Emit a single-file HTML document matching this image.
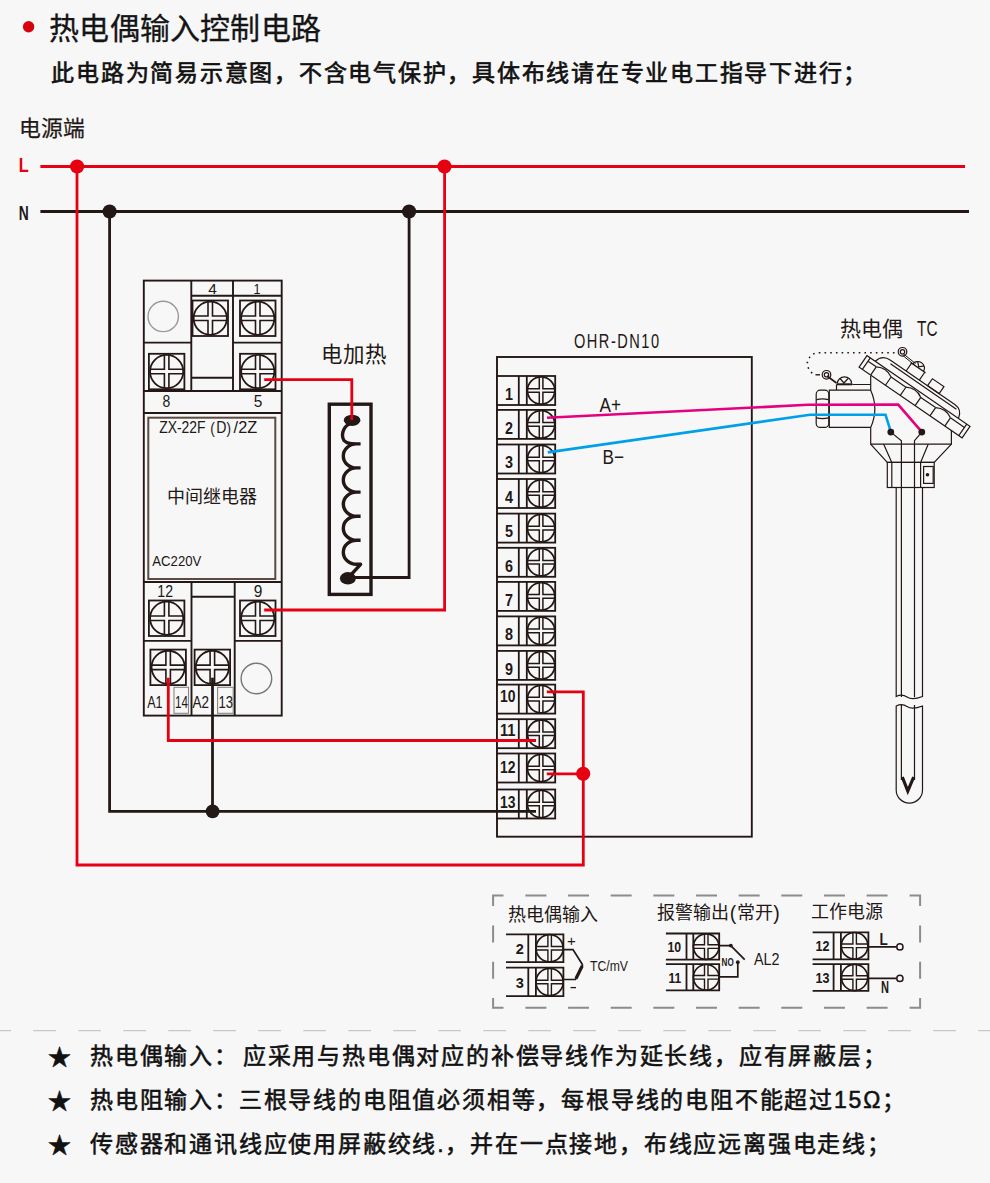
<!DOCTYPE html>
<html lang="zh-CN"><head><meta charset="utf-8">
<style>
html,body{margin:0;padding:0;background:#f7f7f7;width:990px;height:1183px;overflow:hidden}
svg{position:absolute;left:0;top:0;display:block}
text{font-family:"Liberation Sans",sans-serif}
.dk{stroke:#231815;fill:none}
.rd{stroke:#e60012;fill:none}
</style></head><body>
<svg width="990" height="1183" viewBox="0 0 990 1183">
<defs>
  <!-- relay terminal screw, 35.5px square, origin top-left -->
  <g id="rt">
    <rect x="0" y="0" width="35.5" height="35.5" fill="#f7f7f7" stroke="#231815" stroke-width="1.8"/>
    <circle cx="17.75" cy="17.75" r="16.6" fill="none" stroke="#231815" stroke-width="1.8"/>
    <path d="M15.5 1.3V15.5H1.3M20 1.3V15.5H34.2M15.5 34.2V20H1.3M20 34.2V20H34.2" fill="none" stroke="#231815" stroke-width="1.6"/>
  </g>
  <!-- OHR terminal: origin at top-left (x=497), height 29 -->
  <g id="ot">
    <rect x="0" y="0" width="58.2" height="29" fill="#f7f7f7" stroke="#231815" stroke-width="1.8"/>
    <line x1="21.8" y1="0" x2="21.8" y2="29" stroke="#231815" stroke-width="1.8"/>
    <line x1="29.8" y1="0" x2="29.8" y2="29" stroke="#231815" stroke-width="1.8"/>
    <circle cx="44.1" cy="14.5" r="13.7" fill="none" stroke="#231815" stroke-width="1.8"/>
    <path d="M42.3 0.5V12.7H30.3M45.9 0.5V12.7H58.2M42.3 28.5V16.3H30.3M45.9 28.5V16.3H58.2" fill="none" stroke="#231815" stroke-width="1.5"/>
  </g>
</defs>

<!-- ===== Title ===== -->
<circle cx="28.6" cy="26.8" r="5.7" fill="#d8000f"/>
<text x="49.3" y="38.7" font-size="30" fill="#151515" stroke="#151515" stroke-width="0.3" style="letter-spacing:0.2px">热电偶输入控制电路</text>
<text x="51.3" y="80.9" font-size="23" font-weight="400" fill="#111" stroke="#111" stroke-width="0.65" style="letter-spacing:1.75px">此电路为简易示意图，不含电气保护，具体布线请在专业电工指导下进行；</text>

<text x="18.8" y="136.3" font-size="21.8" fill="#231815" stroke="#231815" stroke-width="0.25">电源端</text>
<text x="18.8" y="171.7" font-size="21" font-weight="700" fill="#e60012" textLength="10" lengthAdjust="spacingAndGlyphs">L</text>
<text x="18.8" y="219.6" font-size="21" font-weight="700" fill="#231815" textLength="10" lengthAdjust="spacingAndGlyphs">N</text>

<!-- power lines -->
<line x1="40.4" y1="166.5" x2="965" y2="166.5" class="rd" stroke-width="2.8"/>
<line x1="40.4" y1="211.5" x2="969" y2="211.5" class="dk" stroke-width="2.8"/>

<!-- ===== RELAY ===== -->
<g class="dk" stroke-width="1.9" fill="none">
  <rect x="143.8" y="280.6" width="137.9" height="435" />
  <line x1="191.3" y1="280.6" x2="191.3" y2="391"/>
  <line x1="233" y1="280.6" x2="233" y2="391"/>
  <line x1="191.3" y1="295.7" x2="281.7" y2="295.7"/>
  <line x1="143.8" y1="342.6" x2="191.3" y2="342.6"/>
  <line x1="233" y1="342.6" x2="281.7" y2="342.6"/>
  <line x1="191.3" y1="377.7" x2="233" y2="377.7"/>
  <line x1="143.8" y1="391" x2="281.7" y2="391"/>
  <line x1="143.8" y1="413" x2="281.7" y2="413"/>
  <line x1="143.8" y1="582" x2="281.7" y2="582"/>
  <line x1="191.5" y1="582" x2="191.5" y2="715.6"/>
  <line x1="234.7" y1="582" x2="234.7" y2="715.6"/>
  <line x1="191.5" y1="596.8" x2="234.7" y2="596.8"/>
  <line x1="143.8" y1="640.9" x2="191.5" y2="640.9"/>
  <line x1="234.7" y1="640.9" x2="281.7" y2="640.9"/>
</g>
<rect x="148.3" y="417.7" width="127" height="161.3" fill="none" stroke="#5b4a42" stroke-width="2"/>
<circle cx="163.2" cy="316.4" r="15.2" fill="none" stroke="#9a9a9a" stroke-width="1.4"/>
<circle cx="256.4" cy="678.5" r="15.3" fill="none" stroke="#777" stroke-width="1.4"/>
<rect x="174" y="687.3" width="14.5" height="26" fill="none" stroke="#888" stroke-width="1.1"/>
<rect x="217.6" y="687.3" width="15.6" height="26" fill="none" stroke="#888" stroke-width="1.1"/>
<use href="#rt" x="192.5" y="300.5"/>
<use href="#rt" x="240" y="300.5"/>
<use href="#rt" x="148.9" y="353.8"/>
<use href="#rt" x="240" y="353.8"/>
<use href="#rt" x="148.9" y="600.5"/>
<use href="#rt" x="240" y="600.5"/>
<use href="#rt" x="150.4" y="649.6"/>
<use href="#rt" x="194.6" y="649.6"/>
<g fill="#231815">
  <text x="208.2" y="294" font-size="15.5" textLength="8.6" lengthAdjust="spacingAndGlyphs">4</text>
  <text x="253.5" y="294" font-size="15.5" textLength="7" lengthAdjust="spacingAndGlyphs">1</text>
  <text x="162.6" y="407.4" font-size="16.5" textLength="7.8" lengthAdjust="spacingAndGlyphs">8</text>
  <text x="253.7" y="407.4" font-size="16.5" textLength="8.6" lengthAdjust="spacingAndGlyphs">5</text>
  <text x="157.3" y="597.2" font-size="16.5" textLength="15.7" lengthAdjust="spacingAndGlyphs">12</text>
  <text x="253.7" y="597.2" font-size="16.5" textLength="8.6" lengthAdjust="spacingAndGlyphs">9</text>
  <text x="147.2" y="708.1" font-size="17" textLength="15.4" lengthAdjust="spacingAndGlyphs">A1</text>
  <text x="175" y="708.1" font-size="16.5" textLength="13" lengthAdjust="spacingAndGlyphs">14</text>
  <text x="192.5" y="708.1" font-size="17" textLength="16.5" lengthAdjust="spacingAndGlyphs">A2</text>
  <text x="218.5" y="708.1" font-size="16.5" textLength="14.5" lengthAdjust="spacingAndGlyphs">13</text>
  <text x="159.2" y="433.2" font-size="16.5" textLength="46.4" lengthAdjust="spacingAndGlyphs">ZX-22F</text>
  <text x="210.3" y="434" font-size="16" textLength="4.5" lengthAdjust="spacingAndGlyphs">(</text>
  <text x="216.3" y="433.2" font-size="16.5" textLength="10.2" lengthAdjust="spacingAndGlyphs">D</text>
  <text x="226.6" y="434" font-size="16" textLength="4.5" lengthAdjust="spacingAndGlyphs">)</text>
  <text x="233.6" y="433.2" font-size="16.5" textLength="23.6" lengthAdjust="spacingAndGlyphs">/2Z</text>
  <text x="152.3" y="566.3" font-size="15.5" textLength="49" lengthAdjust="spacingAndGlyphs">AC220V</text>
  <text x="167" y="502.5" font-size="18">中间继电器</text>
</g>


<!-- ===== HEATER ===== -->
<text x="320.5" y="362" font-size="21.5" fill="#231815">电加热</text>
<rect x="329.3" y="404.2" width="41.7" height="190.2" fill="none" stroke="#231815" stroke-width="3.4"/>
<path d="M349.5 424C342.5 427 341 436 344 440.5C347 444 352 443.9 360.6 443.9 M360.6 443.9L356.5 443.9A13.2 12.00 0 0 0 356.5 467.9L360.6 467.9 M360.6 467.9L356.5 467.9A13.2 12.10 0 0 0 356.5 492.1L360.6 492.1 M360.6 492.1L356.5 492.1A13.2 12.10 0 0 0 356.5 516.3L360.6 516.3 M360.6 516.3L356.5 516.3A13.2 12.00 0 0 0 356.5 540.3L360.6 540.3 M360.6 540.3L356.5 540.3A13.2 12.00 0 0 0 356.5 564.3L360.6 564.3 L348 578" fill="none" stroke="#231815" stroke-width="3.4" stroke-linejoin="round"/>
<ellipse cx="352.1" cy="420.3" rx="8.3" ry="5.6" fill="#231815"/>
<ellipse cx="347.9" cy="578.3" rx="8" ry="6.2" fill="#231815"/>


<!-- ===== OHR ===== -->
<text x="574" y="347.9" font-size="19.5" fill="#231815" style="letter-spacing:2px" textLength="86.5" lengthAdjust="spacingAndGlyphs">OHR-DN10</text>
<rect x="497" y="357" width="254.8" height="479.7" fill="none" stroke="#231815" stroke-width="1.9"/>
<use href="#ot" x="497" y="376"/>
<use href="#ot" x="497" y="409.9"/>
<use href="#ot" x="497" y="444.5"/>
<use href="#ot" x="497" y="479"/>
<use href="#ot" x="497" y="513.6"/>
<use href="#ot" x="497" y="547.8"/>
<use href="#ot" x="497" y="581.9"/>
<use href="#ot" x="497" y="616.4"/>
<use href="#ot" x="497" y="650.9"/>
<use href="#ot" x="497" y="684.6"/>
<use href="#ot" x="497" y="719.2"/>
<use href="#ot" x="497" y="753.5"/>
<use href="#ot" x="497" y="789.5"/>
<text x="505" y="399.8" font-size="16.3" font-weight="700" fill="#231815" textLength="8" lengthAdjust="spacingAndGlyphs">1</text>
<text x="505" y="433.7" font-size="16.3" font-weight="700" fill="#231815" textLength="8" lengthAdjust="spacingAndGlyphs">2</text>
<text x="505" y="468.3" font-size="16.3" font-weight="700" fill="#231815" textLength="8" lengthAdjust="spacingAndGlyphs">3</text>
<text x="505" y="502.8" font-size="16.3" font-weight="700" fill="#231815" textLength="8" lengthAdjust="spacingAndGlyphs">4</text>
<text x="505" y="537.4" font-size="16.3" font-weight="700" fill="#231815" textLength="8" lengthAdjust="spacingAndGlyphs">5</text>
<text x="505" y="571.6" font-size="16.3" font-weight="700" fill="#231815" textLength="8" lengthAdjust="spacingAndGlyphs">6</text>
<text x="505" y="605.7" font-size="16.3" font-weight="700" fill="#231815" textLength="8" lengthAdjust="spacingAndGlyphs">7</text>
<text x="505" y="640.2" font-size="16.3" font-weight="700" fill="#231815" textLength="8" lengthAdjust="spacingAndGlyphs">8</text>
<text x="505" y="674.7" font-size="16.3" font-weight="700" fill="#231815" textLength="8" lengthAdjust="spacingAndGlyphs">9</text>
<text x="500" y="701.8" font-size="16.3" font-weight="700" fill="#231815" textLength="15.5" lengthAdjust="spacingAndGlyphs">10</text>
<text x="500" y="736.4" font-size="16.3" font-weight="700" fill="#231815" textLength="15.5" lengthAdjust="spacingAndGlyphs">11</text>
<text x="500" y="773.0" font-size="16.3" font-weight="700" fill="#231815" textLength="15.5" lengthAdjust="spacingAndGlyphs">12</text>
<text x="500" y="807.7" font-size="16.3" font-weight="700" fill="#231815" textLength="15.5" lengthAdjust="spacingAndGlyphs">13</text>
<text x="599.5" y="412.4" font-size="20.5" fill="#231815" textLength="21.5" lengthAdjust="spacingAndGlyphs">A+</text>
<text x="602.5" y="464.3" font-size="20.5" fill="#231815" textLength="21.5" lengthAdjust="spacingAndGlyphs">B−</text>


<!-- ===== THERMOCOUPLE ===== -->
<text x="839.5" y="335.5" font-size="21" fill="#231815">热电偶</text>
<text x="917" y="336" font-size="21.5" fill="#231815" textLength="20.5" lengthAdjust="spacingAndGlyphs">TC</text>
<g fill="none" stroke="#231815" stroke-width="1.2">
  <path d="M812.3 373.3Q802 363 813 354Q816 352.7 820 352.7H897" stroke-width="1.6" stroke-dasharray="1.6 4.1"/>
  <line x1="815.5" y1="374.8" x2="820" y2="374.8" stroke-width="1.4"/>
  <circle cx="826.5" cy="374.8" r="4.3"/>
  <circle cx="826.5" cy="374.8" r="2.2"/>
  <path d="M827 376L836.5 383" stroke-width="1.6"/>
  <path d="M837.5 383.2A6.8 6.2 0 0 1 851.5 383.2"/>
  <path d="M840 378.5L844 383L848 378.5"/>
  <path d="M836.5 384.3H852.5" stroke-width="2"/>
  <path d="M852.5 384.5H870.7M836.5 384.5V390.2"/>
  <path d="M870.7 390.2H829.3V427.4H870.7"/>
  <path d="M870.7 376V390.2Q879 408.8 870.7 427.4V444.2H951.4V430"/>
  <rect x="816.2" y="390.2" width="12.6" height="37.2" rx="4"/>
  <path d="M816.5 399.6Q822.5 398 828.5 399.6M816.5 417.8Q822.5 419.4 828.5 417.8"/>
  <path d="M870.6 444.2L887.3 462.4H934.2L951.4 444.2M883.7 444.2L891.8 462.4M928.2 444.2L920.6 462.4"/>
  <rect x="887.3" y="462.4" width="46.9" height="25.1"/>
  <path d="M891.8 462.4V487.5M920.6 462.4V487.5"/>
  <rect x="923.6" y="466.5" width="9.6" height="16.9"/>
  <circle cx="927.5" cy="474.8" r="1.8" fill="#231815" stroke="none"/>
  <path d="M896.2 487.5V696.5Q902 693.5 907 697T922.5 696.5V487.5"/>
  <path d="M896.2 706Q902 703 907 706.5T922.5 706V790A13.15 13.15 0 0 1 896.2 790Z"/>
  <path d="M890.8 432.1L901.4 440.7V697M901.4 705V780M921.8 432.1L914.5 440.7V697M914.5 705V780"/>
  <path d="M902.3 777L907.8 791L913.7 777" stroke-width="3.2"/>
  <g transform="translate(867 355.6) rotate(34.5)">
    <rect x="0" y="0" width="125" height="14"/>
    <path d="M4 0V14M121 0V14M4 4H14M32 4H50M68 4H86M104 4H121"/>
    <path d="M14 4Q23 -1.5 32 4M50 4Q59 -1.5 68 4M86 4Q95 -1.5 104 4"/>
    <path d="M14 4V14M32 4V14M50 4V14M68 4V14M86 4V14M104 4V14"/>
    <path d="M10 0Q12 -9.5 22 -9.5H100Q109 -9.5 111 0M24 -6.5H104"/>
    <rect x="67" y="-18" width="14" height="8.5"/>
    <path d="M41 -9.5V-19H57V-9.5M40 -19H58" />
    <path d="M42.5 -19A6.5 6 0 0 1 55.5 -19M45 -24L49 -20L53 -24"/>
  </g>
  <circle cx="902.5" cy="351.8" r="4.3"/>
  <circle cx="902.5" cy="351.8" r="2.2"/>
  <path d="M903.5 354L915.5 363.5M902.8 355.5L914.5 365" stroke-width="1"/>
</g>
<polyline points="547,417.8 808,404.8 898.2,404.6 921.8,431.8" fill="none" stroke="#e4007f" stroke-width="2.6"/>
<polyline points="547.8,452.4 810,414.8 885.5,414.8 890.9,431.8" fill="none" stroke="#00a0e9" stroke-width="2.6"/>
<circle cx="890.8" cy="432.1" r="3.4" fill="#231815"/>
<circle cx="921.8" cy="432.1" r="3.4" fill="#231815"/>


<!-- ===== LEGEND ===== -->
<path d="M493.1 906V895.5H503.5M909.6 895.5H920.1V906M920.1 998V1007.8H909.6M503.5 1007.8H493.1V998" fill="none" stroke="#8c8c8c" stroke-width="2"/>
<line x1="525.4" y1="895.5" x2="890" y2="895.5" stroke="#8c8c8c" stroke-width="2" stroke-dasharray="21 21.65"/>
<line x1="525.4" y1="1007.8" x2="890" y2="1007.8" stroke="#8c8c8c" stroke-width="2" stroke-dasharray="21 21.65"/>
<line x1="493.1" y1="925.4" x2="493.1" y2="980" stroke="#8c8c8c" stroke-width="2" stroke-dasharray="17 19.4"/>
<line x1="920.1" y1="925.4" x2="920.1" y2="980" stroke="#8c8c8c" stroke-width="2" stroke-dasharray="17 19.4"/>
<g font-size="18" fill="#231815">
<text x="507.5" y="920.5">热电偶输入</text>
<text x="657" y="919">报警输出</text><text x="729.8" y="920" font-size="19.5">(</text><text x="737" y="919">常开</text><text x="773.2" y="920" font-size="19.5">)</text>
<text x="810.5" y="918">工作电源</text>
</g>
<g stroke="#231815" fill="none">
<path d="M506 934.3H563.4V962.2H506M528.3 934.3V962.2M535.9 934.3V962.2" stroke-width="1.8"/>
<circle cx="549.6" cy="948.2" r="13.6" stroke-width="1.7"/>
<path d="M547.9 934.8V946.5H536.4M551.4 934.8V946.5H562.9M547.9 961.7V950.0H536.4M551.4 961.7V950.0H562.9" stroke-width="1.4"/>
</g>
<text x="515.7" y="953.8" font-size="14.5" font-weight="700" fill="#231815" textLength="8.1" lengthAdjust="spacingAndGlyphs">2</text>
<g stroke="#231815" fill="none">
<path d="M506 967.7H563.4V996.2H506M528.3 967.7V996.2M535.9 967.7V996.2" stroke-width="1.8"/>
<circle cx="549.6" cy="982.0" r="13.6" stroke-width="1.7"/>
<path d="M547.9 968.2V980.2H536.4M551.4 968.2V980.2H562.9M547.9 995.7V983.8H536.4M551.4 995.7V983.8H562.9" stroke-width="1.4"/>
</g>
<text x="515.7" y="987.5" font-size="14.5" font-weight="700" fill="#231815" textLength="8.1" lengthAdjust="spacingAndGlyphs">3</text>
<g stroke="#231815" fill="none">
<path d="M665.9 933.5H719.2V959.7H665.9M686.5 933.5V959.7M693.3 933.5V959.7" stroke-width="1.8"/>
<circle cx="706.2" cy="946.6" r="12.8" stroke-width="1.7"/>
<path d="M704.5 934.0V944.8H693.8M708.0 934.0V944.8H718.7M704.5 959.2V948.4H693.8M708.0 959.2V948.4H718.7" stroke-width="1.4"/>
</g>
<text x="667.5" y="952.1" font-size="14.5" font-weight="700" fill="#231815" textLength="13.7" lengthAdjust="spacingAndGlyphs">10</text>
<g stroke="#231815" fill="none">
<path d="M665.9 964.2H719.2V990.4H665.9M686.5 964.2V990.4M693.3 964.2V990.4" stroke-width="1.8"/>
<circle cx="706.2" cy="977.3" r="12.8" stroke-width="1.7"/>
<path d="M704.5 964.7V975.5H693.8M708.0 964.7V975.5H718.7M704.5 989.9V979.1H693.8M708.0 989.9V979.1H718.7" stroke-width="1.4"/>
</g>
<text x="668.5" y="982.8" font-size="14.5" font-weight="700" fill="#231815" textLength="12.7" lengthAdjust="spacingAndGlyphs">11</text>
<g stroke="#231815" fill="none">
<path d="M812.6 932.3H868.4V959.3H812.6M833.6 932.3V959.3M840.9 932.3V959.3" stroke-width="1.8"/>
<circle cx="854.6" cy="945.8" r="13.3" stroke-width="1.7"/>
<path d="M852.9 932.8V944.0H841.4M856.4 932.8V944.0H867.9M852.9 958.8V947.6H841.4M856.4 958.8V947.6H867.9" stroke-width="1.4"/>
</g>
<text x="815.5" y="951.3" font-size="14.5" font-weight="700" fill="#231815" textLength="14" lengthAdjust="spacingAndGlyphs">12</text>
<g stroke="#231815" fill="none">
<path d="M812.6 964.2H868.4V990.9H812.6M833.6 964.2V990.9M840.9 964.2V990.9" stroke-width="1.8"/>
<circle cx="854.6" cy="977.5" r="13.1" stroke-width="1.7"/>
<path d="M852.9 964.7V975.8H841.4M856.4 964.7V975.8H867.9M852.9 990.4V979.3H841.4M856.4 990.4V979.3H867.9" stroke-width="1.4"/>
</g>
<text x="815.5" y="983.0" font-size="14.5" font-weight="700" fill="#231815" textLength="14" lengthAdjust="spacingAndGlyphs">13</text>

<path d="M563.4 949.6H573L582.7 965" fill="none" stroke="#231815" stroke-width="1.7"/>
<path d="M582.7 965L575.5 979.5H563.4" fill="none" stroke="#231815" stroke-width="1.7"/>
<path d="M582.2 966L576 978.5" fill="none" stroke="#231815" stroke-width="3.2"/>
<text x="567" y="945.6" font-size="15" fill="#231815">+</text>
<line x1="570.5" y1="987.6" x2="576" y2="987.6" stroke="#231815" stroke-width="1.3"/>
<text x="590" y="971.4" font-size="14.5" fill="#231815" textLength="38" lengthAdjust="spacingAndGlyphs">TC/mV</text>
<path d="M719.2 945.6H730.8L744.7 959.7M737.8 962.2V976.8H719.2" fill="none" stroke="#231815" stroke-width="1.7"/>
<circle cx="730.8" cy="945.6" r="1.9" fill="#231815"/>
<circle cx="737.8" cy="962.2" r="1.9" fill="#231815"/>
<text x="721.6" y="965.8" font-size="10" font-weight="700" fill="#231815" textLength="12.1" lengthAdjust="spacingAndGlyphs">NO</text>
<text x="754" y="964.5" font-size="16" fill="#231815" textLength="25.5" lengthAdjust="spacingAndGlyphs">AL2</text>
<path d="M868.4 946.9H896.9M868.4 978.4H896.9" fill="none" stroke="#231815" stroke-width="1.7"/>
<circle cx="899.9" cy="946.9" r="3.1" fill="#f7f7f7" stroke="#231815" stroke-width="1.5"/>
<circle cx="899.9" cy="978.4" r="3.1" fill="#f7f7f7" stroke="#231815" stroke-width="1.5"/>
<text x="879.5" y="944.8" font-size="16.5" font-weight="700" fill="#231815" textLength="8.3" lengthAdjust="spacingAndGlyphs">L</text>
<text x="881" y="993.3" font-size="16" font-weight="700" fill="#231815" textLength="8" lengthAdjust="spacingAndGlyphs">N</text>


<!-- wires -->
<polyline points="77,166.5 77,865 583.3,865 583.3,691.9 546.8,691.9" class="rd" stroke-width="2.8"/>
<line x1="583.3" y1="773.8" x2="546.8" y2="773.8" class="rd" stroke-width="2.8"/>
<polyline points="109.6,211.5 109.6,811.3 536,811.3" class="dk" stroke-width="2.8"/>
<line x1="212.5" y1="677.7" x2="212.5" y2="811.3" class="dk" stroke-width="2.8"/>
<polyline points="168.3,677.7 168.3,740.5 536,740.5" class="rd" stroke-width="2.8"/>
<polyline points="444.6,166.5 444.6,610 264.2,610" class="rd" stroke-width="2.8"/>
<polyline points="409.1,211.5 409.1,577.5 348,577.5" class="dk" stroke-width="2.8"/>
<polyline points="264.2,379.7 351.8,379.7 351.8,420" class="rd" stroke-width="2.8"/>

<circle cx="77.1" cy="166.5" r="7.1" fill="#e60012"/>
<circle cx="444.5" cy="166.5" r="7.1" fill="#e60012"/>
<circle cx="109.6" cy="211.5" r="7.1" fill="#231815"/>
<circle cx="409.1" cy="211.5" r="7.1" fill="#231815"/>
<circle cx="212.6" cy="811.3" r="6.9" fill="#231815"/>
<circle cx="583.2" cy="773.8" r="7.1" fill="#e60012"/>



<!-- ===== footer ===== -->
<line x1="0" y1="1030.7" x2="990" y2="1030.7" stroke="#c8c8c8" stroke-width="1.2" stroke-dasharray="22.7 22.3" stroke-dashoffset="-33.3"/>
<g font-size="23" font-weight="400" fill="#111" stroke="#111" stroke-width="0.55" style="letter-spacing:1.8px">
<text x="48" y="1064.5">★</text>
<text x="90" y="1063.5">热电偶输入：<tspan dx="4">应采用与热电偶对应的补偿导线作为延长线，应有屏蔽层；</tspan></text>
<text x="48" y="1108.5">★</text>
<text x="90" y="1107.5">热电阻输入：三根导线的电阻值必须相等，每根导线的电阻不能超过15Ω；</text>
<text x="48" y="1152.5">★</text>
<text x="90" y="1151.5">传感器和通讯线应使用屏蔽绞线.，并在一点接地，布线应远离强电走线；</text>
</g>
</svg>
</body></html>
